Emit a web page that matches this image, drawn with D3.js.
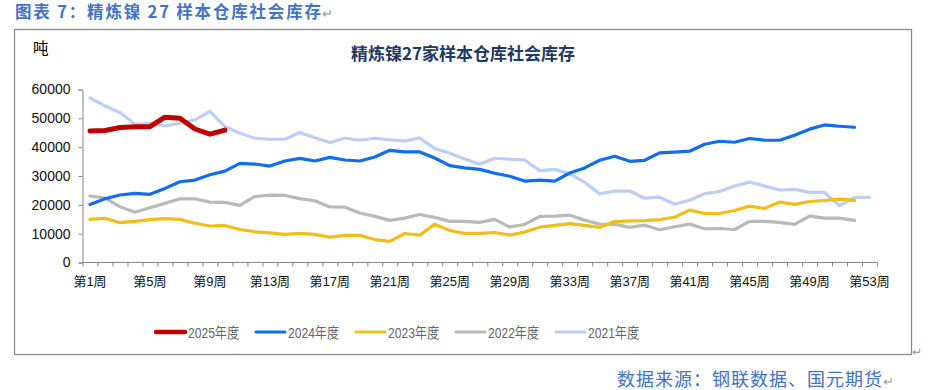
<!DOCTYPE html>
<html><head><meta charset="utf-8">
<script src="https://cdn.jsdelivr.net/npm/d3@7"></script>
<style>
html,body{margin:0;padding:0;background:#fff;}
svg{display:block;}
text{font-family:"Liberation Sans",Arial,"Noto Sans CJK SC",sans-serif;}
.cjk{font-family:"Noto Sans CJK SC","Liberation Sans",sans-serif;}
</style>
</head><body>
<svg id="chart" width="930" height="390"></svg>
<script>
const caption = "图表 7：精炼镍 27 样本仓库社会库存";
const chartTitle = "精炼镍27家样本仓库社会库存";
const unitLabel = "吨";
const sourceText = "数据来源：钢联数据、国元期货";

const weeks = d3.range(1, 54);
const xTickLabelWeeks = [1,5,9,13,17,21,25,29,33,37,41,45,49,53];
const yTicks = [0,10000,20000,30000,40000,50000,60000];

const seriesNames = ["2025年度","2024年度","2023年度","2022年度","2021年度"];

const y2025 = [45600,45800,46800,47100,47100,50400,50000,46300,44500,45900];
const y2024 = [20150,22100,23400,23950,23650,25700,28000,28600,30450,31700,
  34400,34150,33450,35200,36100,35200,36450,35550,35200,36600,
  38900,38350,38350,36250,33600,32800,32300,30950,29900,28250,
  28600,28250,31050,32800,35450,36850,35100,35450,38000,38250,
  38600,41000,42050,41700,43000,42400,42400,44150,46250,47700,
  47250,46900];
const y2023 = [14950,15350,13800,14250,14900,15250,14950,13600,12650,12850,
  11450,10650,10300,9750,10100,9750,8800,9400,9400,7950,
  7300,10050,9500,13300,11100,10100,10100,10400,9500,10550,
  12250,12850,13500,12850,12200,14200,14450,14550,14900,15700,
  18150,17000,17000,18050,19550,18750,20950,20150,21150,21500,
  21950,21550];
const y2022 = [23050,22350,19350,17400,19000,20500,22100,22100,20950,20850,
  19800,22900,23350,23250,22150,21400,19250,19200,17150,16000,
  14600,15400,16650,15650,14250,14250,13900,14950,12300,13200,
  15950,16100,16400,14700,13300,13200,12200,12950,11350,12400,
  13300,11700,11800,11450,14250,14250,13900,13200,16100,15400,
  15400,14600];
const y2021 = [57000,54300,52000,47950,48200,47400,48300,49450,52450,47150,
  44850,43100,42750,42750,45100,43300,41600,43100,42400,43100,
  42500,42150,43200,39500,37900,35900,34050,36150,35800,35550,
  31850,32300,30800,27800,23800,24780,24780,22300,22650,20200,
  21600,23850,24650,26500,27900,26500,25150,25350,24300,24300,
  19700,22600,22600];

const seriesValues = [y2025, y2024, y2023, y2022, y2021];
const seriesColors = ["#C00000","#0F6EF0","#F0BE1A","#B9B9B9","#BDCEF5"];
const seriesWidths = [5, 3.2, 3.2, 3.2, 3.2];

const svg = d3.select("#chart");

// caption
svg.append("text").attr("class","cjk")
  .attr("x", 15).attr("y", 18)
  .attr("font-size", 16.5).attr("font-weight", "bold")
  .attr("fill", "#4472C4")
  .attr("textLength", 306).attr("lengthAdjust", "spacing")
  .text(caption);
svg.append("text").attr("x", 322).attr("y", 18).attr("font-size", 13).attr("fill", "#999").text("↵");

// frame
svg.append("rect").attr("x", 14.5).attr("y", 29.5).attr("width", 897).attr("height", 325)
  .attr("fill", "none").attr("stroke", "#8a8a8a").attr("stroke-width", 1.3);
svg.append("text").attr("x", 912).attr("y", 356).attr("font-size", 12).attr("fill", "#999").text("↵");

// unit
svg.append("text").attr("class","cjk").attr("x", 33).attr("y", 54)
  .attr("font-size", 15.5).attr("fill", "#000").text(unitLabel);

// title
svg.append("text").attr("class","cjk").attr("x", 463).attr("y", 60)
  .attr("text-anchor", "middle").attr("font-size", 17).attr("font-weight", "bold")
  .attr("fill", "#1F3864").text(chartTitle);

// scales
const pLeft = 82.5, pRight = 877, pTop = 89.5, pBottom = 262.5;
const xBand = d3.scaleBand().domain(weeks).range([pLeft, pRight]).padding(0);
const xLin = d3.scaleLinear().domain([0, 53]).range([pLeft, pRight]);
const y = d3.scaleLinear().domain([0, 60000]).range([pBottom, pTop]);
const cx = w => xBand(w) + xBand.bandwidth() / 2;

// y axis
const yAxis = svg.append("g").attr("transform", `translate(${pLeft},0)`)
  .call(d3.axisLeft(y).tickValues(yTicks).tickSize(4).tickPadding(8).tickFormat(d3.format("d")));
yAxis.selectAll("path,line").attr("stroke", "#868686");
yAxis.selectAll("text").attr("font-size", 14).attr("fill", "#111")
  .attr("font-family", "'Liberation Sans',Arial,sans-serif");

// x axis tick marks (category boundaries)
const xTicksG = svg.append("g").attr("transform", `translate(0,${pBottom})`)
  .call(d3.axisBottom(xLin).tickValues(d3.range(0, 54)).tickSize(4).tickFormat(""));
xTicksG.selectAll("path,line").attr("stroke", "#868686");
xTicksG.select("path").attr("d", `M${pLeft},0H${pRight}`);

// x labels
const xLabG = svg.append("g").attr("transform", `translate(0,${pBottom})`)
  .call(d3.axisBottom(xBand).tickValues(xTickLabelWeeks).tickSize(0).tickPadding(14).tickFormat(d => `第${d}周`));
xLabG.select("path").remove();
xLabG.selectAll("text").attr("font-size", 13).attr("fill", "#111")
  .attr("font-family", "'Liberation Sans','Noto Sans CJK SC',sans-serif");

// lines (draw oldest first, 2025 on top)
const line = d3.line().x((d, i) => cx(i + 1)).y(d => y(d));
const order = [4, 3, 2, 1, 0];
order.forEach(k => {
  svg.append("path").datum(seriesValues[k])
    .attr("d", line)
    .attr("fill", "none")
    .attr("stroke", seriesColors[k])
    .attr("stroke-width", seriesWidths[k])
    .attr("stroke-linejoin", "round")
    .attr("stroke-linecap", "round");
});

// legend
const legend = svg.append("g");
seriesNames.forEach((name, i) => {
  const lx = 156 + i * 100;
  legend.append("line").attr("x1", lx).attr("x2", lx + 29).attr("y1", 332).attr("y2", 332)
    .attr("stroke", seriesColors[i]).attr("stroke-width", i === 0 ? 4.5 : 3.2)
    .attr("stroke-linecap", "round");
  legend.append("text").attr("x", lx + 32).attr("y", 337.5)
    .attr("font-size", 14.5).attr("fill", "#666")
    .attr("textLength", 51).attr("lengthAdjust", "spacingAndGlyphs")
    .attr("font-family", "'Liberation Sans','Noto Sans CJK SC',sans-serif")
    .text(name);
});

// source
svg.append("text").attr("class","cjk").attr("x", 617).attr("y", 386)
  .attr("font-size", 18).attr("fill", "#4472C4")
  .attr("textLength", 265).attr("lengthAdjust", "spacing")
  .text(sourceText);
svg.append("text").attr("x", 883).attr("y", 386).attr("font-size", 13).attr("fill", "#999").text("↵");
</script>
</body></html>
